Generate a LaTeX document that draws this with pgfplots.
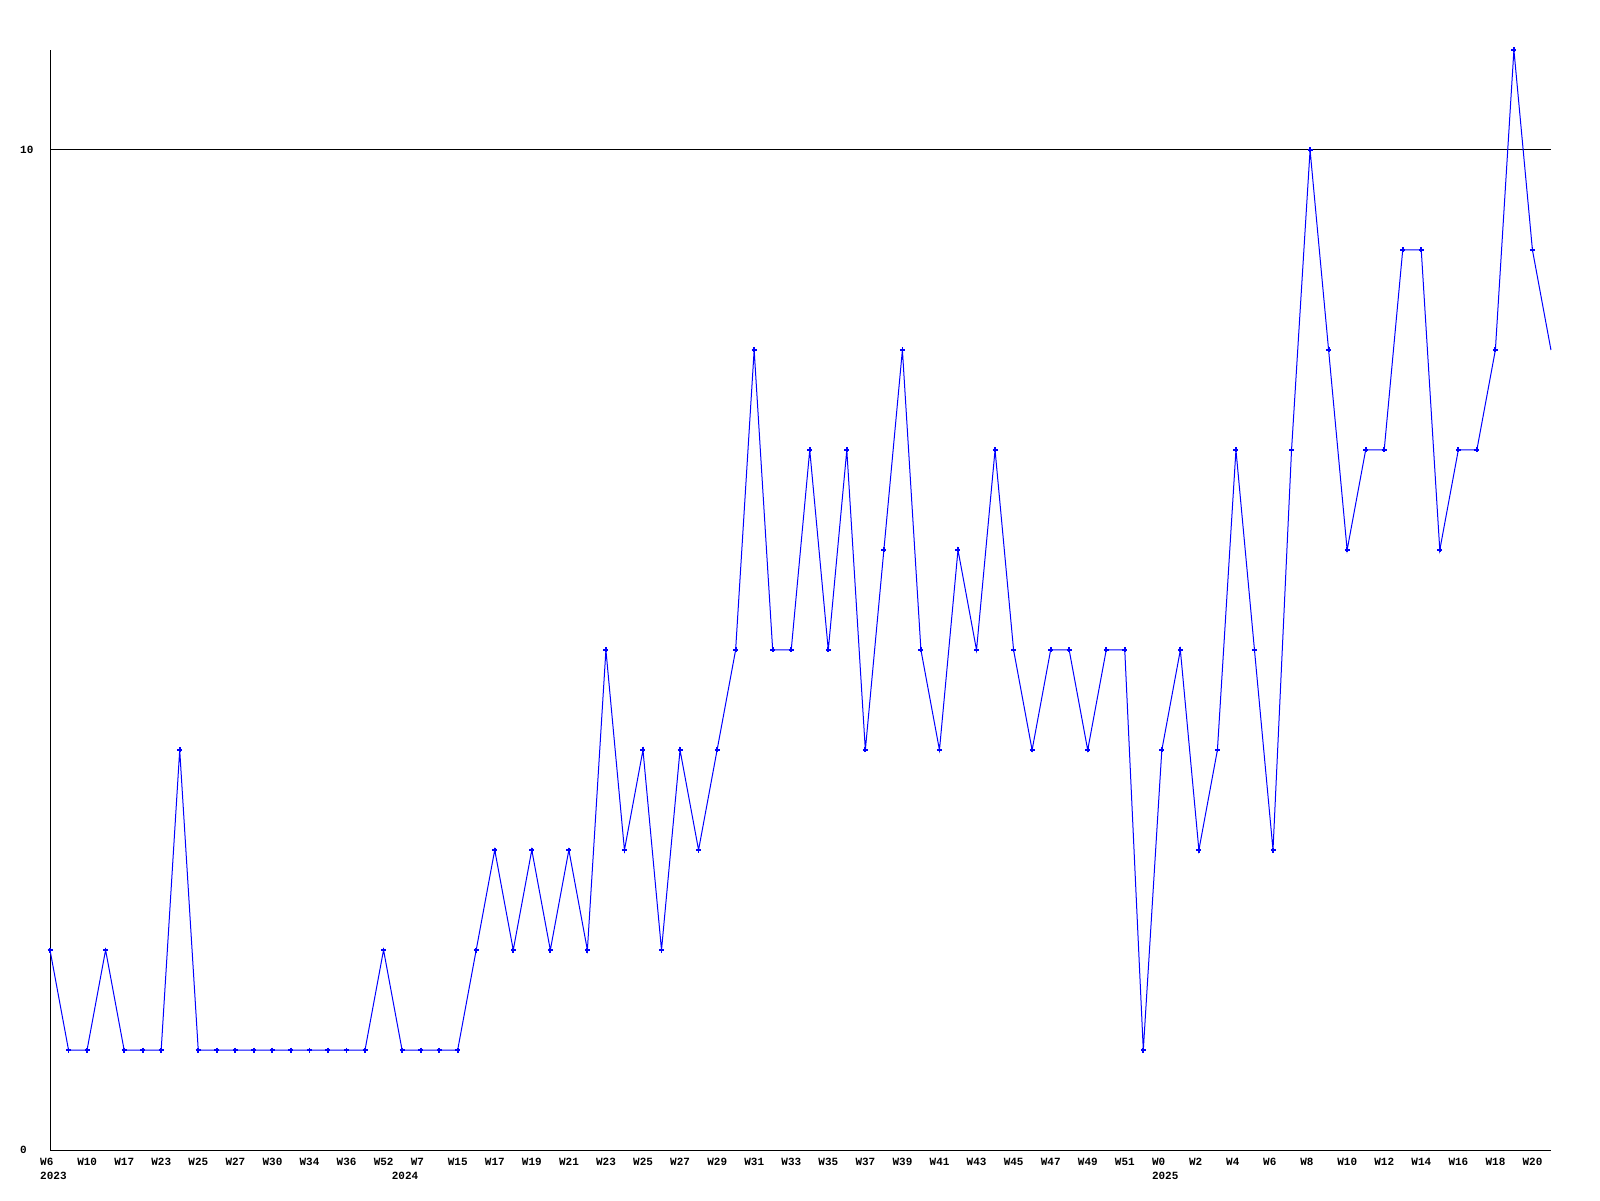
\documentclass[border=0pt]{standalone}
\usepackage{fontspec}
\setmainfont{Liberation Mono}
\usepackage{pgfplots}
\usepackage{pgfplotstable}
\pgfplotsset{compat=1.18}

\definecolor{lineblue}{RGB}{0,0,255}

% weekly counts, one row per week (2023-W6 ... 2025-W21)
\pgfplotstableread{
x y
0 2
1 1
2 1
3 2
4 1
5 1
6 1
7 4
8 1
9 1
10 1
11 1
12 1
13 1
14 1
15 1
16 1
17 1
18 2
19 1
20 1
21 1
22 1
23 2
24 3
25 2
26 3
27 2
28 3
29 2
30 5
31 3
32 4
33 2
34 4
35 3
36 4
37 5
38 8
39 5
40 5
41 7
42 5
43 7
44 4
45 6
46 8
47 5
48 4
49 6
50 5
51 7
52 5
53 4
54 5
55 5
56 4
57 5
58 5
59 1
60 4
61 5
62 3
63 4
64 7
65 5
66 3
67 7
68 10
69 8
70 6
71 7
72 7
73 9
74 9
75 6
76 7
77 7
78 8
79 11
80 9
81 8
}\weekly

\begin{document}
\begin{tikzpicture}[x=1pt,y=1pt]
\path[use as bounding box] (0,0) rectangle (1600,1200);
\begin{axis}[
  at={(50pt,50pt)}, anchor=south west,
  scale only axis,
  width=1501pt, height=1100pt,
  xmin=0, xmax=81,
  ymin=0, ymax=11,
  clip=false,
  axis x line*=bottom,
  axis y line*=left,
  axis line style={-, black, line width=1pt},
  major tick length=0pt,
  ytick={0,10},
  ymajorgrids,
  grid style={black, line width=1pt},
  yticklabel style={font=\bfseries\fontsize{11}{13}\selectfont, anchor=west, inner sep=0pt, xshift=-30pt},
  /pgf/number format/assume math mode=true,
  xtick={0,2,...,80},
  xticklabels={W6\\2023,W10,W17,W23,W25,W27,W30,W34,W36,W52,W7\\\hspace*{-19pt}2024,W15,W17,W19,W21,W23,W25,W27,W29,W31,W33,W35,W37,W39,W41,W43,W45,W47,W49,W51,W0\\2025,W2,W4,W6,W8,W10,W12,W14,W16,W18,W20},
  xticklabel style={font=\bfseries\fontsize{11}{14}\selectfont, anchor=north west, align=left, inner sep=0pt, xshift=-10pt, yshift=-8pt},
]
\addplot[lineblue, line width=1pt] table[x=x, y=y] {\weekly};
\addplot[only marks, lineblue, mark=+, mark size=2.5pt, mark options={line width=1.8pt},
  restrict x to domain=0:80] table[x=x, y=y] {\weekly};
\end{axis}
\end{tikzpicture}
\end{document}
